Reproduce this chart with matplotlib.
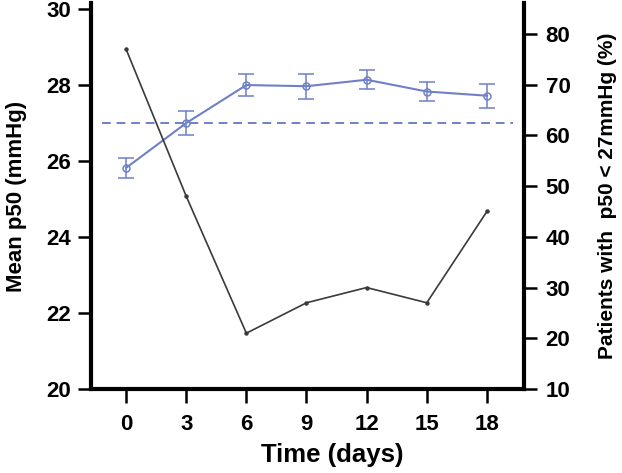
import matplotlib
matplotlib.use("Agg")
import matplotlib.pyplot as plt

plt.rcParams['font.family'] = ['Liberation Sans', 'DejaVu Sans']
plt.rcParams['font.weight'] = 'bold'

days = [0, 3, 6, 9, 12, 15, 18]
# mean p50 (left axis) with error bars
p50_mean = [25.82, 27.0, 28.0, 27.97, 28.14, 27.83, 27.72]
p50_err = [0.27, 0.31, 0.30, 0.33, 0.25, 0.25, 0.32]
# percent of patients with p50 < 27mmHg (right axis)
pct_low = [77, 48, 21, 27, 30, 27, 45]
threshold = 27.0

blue = '#6f80c8'
dark = '#3a3a3a'

fig = plt.figure(figsize=(6.22, 4.73), dpi=100)
ax = fig.add_axes([91 / 622, 1 - 389 / 473, (524 - 91) / 622, 386 / 473])
ax2 = ax.twinx()

ax.errorbar(days, p50_mean, yerr=p50_err, color=blue, lw=1.5, marker='o',
            mfc='none', mec=blue, ms=5, mew=1.1, capsize=5.5, elinewidth=1.1,
            capthick=1.1, zorder=3)
ax.plot([-1.2, 19.3], [threshold, threshold], color=blue, lw=1.4,
        dashes=(4.5, 3), zorder=2)

ax2.plot(days, pct_low, color=dark, lw=1.2, marker='o', ms=2.2, zorder=2)

ax.set_xlim(-1.75, 19.85)
ax.set_ylim(20, 30.16)
ax2.set_ylim(10, 86.1)

ax.set_xticks(days)
ax.set_yticks([20, 22, 24, 26, 28, 30])
ax2.set_yticks([10, 20, 30, 40, 50, 60, 70, 80])

for a in (ax, ax2):
    for s in a.spines.values():
        s.set_linewidth(3)
    a.spines['top'].set_visible(False)

ax.spines['right'].set_visible(False)
ax2.spines['left'].set_visible(False)
ax2.spines['bottom'].set_visible(False)

ax.tick_params(axis='x', length=10, width=1.8, pad=8, labelsize=16)
ax.tick_params(axis='y', length=9.5, width=1.8, pad=5, labelsize=16)
ax2.tick_params(axis='y', length=9.5, width=1.8, pad=6, labelsize=16)

ax.set_xlabel('Time (days)', fontsize=18.5, fontweight='bold')
ax.xaxis.set_label_coords(0.557, -0.14)
ax.set_ylabel('Mean p50 (mmHg)', fontsize=16, fontweight='bold', labelpad=14)
ax2.set_ylabel('Patients with  p50 < 27mmHg (%)', fontsize=15,
               fontweight='bold', labelpad=20)

fig.savefig('out.png', dpi=100)
